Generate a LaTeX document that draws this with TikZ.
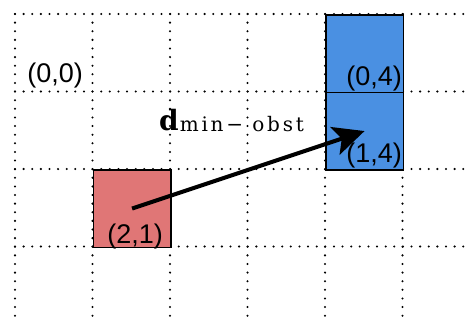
\documentclass[tikz,border=0pt]{standalone}
\usepackage{fontspec}
\setmainfont{Liberation Sans}
\newfontfamily\dvs{DejaVu Serif}
\newfontfamily\dvsls[LetterSpace=14]{DejaVu Serif}
\usetikzlibrary{arrows.meta}
\definecolor{cellred}{RGB}{224,118,118}
\definecolor{cellblue}{RGB}{74,144,226}
\tikzset{
  gridline/.style={line width=2.3pt, dash pattern=on 0pt off 8.62pt, line cap=round, black},
  cell/.style={draw=black, line width=1.6pt, minimum size=77.5pt, inner sep=0pt, anchor=north west},
  coord/.style={anchor=base east, inner sep=0pt, font=\fontsize{27}{27}\selectfont},
  arrowline/.style={line width=4pt, -{Stealth[length=31pt,width=29pt,inset=7pt]}}
}
\begin{document}
\begin{tikzpicture}[x=1pt,y=-1pt]
\useasboundingbox (0,0) rectangle (475,324);
\foreach \gx in {15,92.5,170,247.5,325,402.5}
  \draw[gridline] (\gx,14) -- (\gx,321);
\foreach \gy in {14,91.5,169,246.5}
  \draw[gridline] (15,\gy) -- (470,\gy);
\node[cell, fill=cellred] (r21) at (92.5,169) {};
\node[cell, fill=cellblue] (b04) at (325,14) {};
\node[cell, fill=cellblue] (b14) at (325,91.5) {};
\node[coord] (l00) at (83,82) {(0,0)};
\node[coord] (l04) at (402,85) {(0,4)};
\node[coord] (l14) at (402,162.5) {(1,4)};
\node[coord] (l21) at (163,243) {(2,1)};
\draw[arrowline] (r21.center) -- (b14.center);
\node[anchor=base west, inner sep=0pt] (dlab) at (159,130)
  {\fontsize{28}{28}\selectfont\dvs\bfseries d\kern1pt\raisebox{-1pt}{\fontsize{20}{20}\selectfont\dvsls\mdseries min−\ obst}};
\end{tikzpicture}
\end{document}
